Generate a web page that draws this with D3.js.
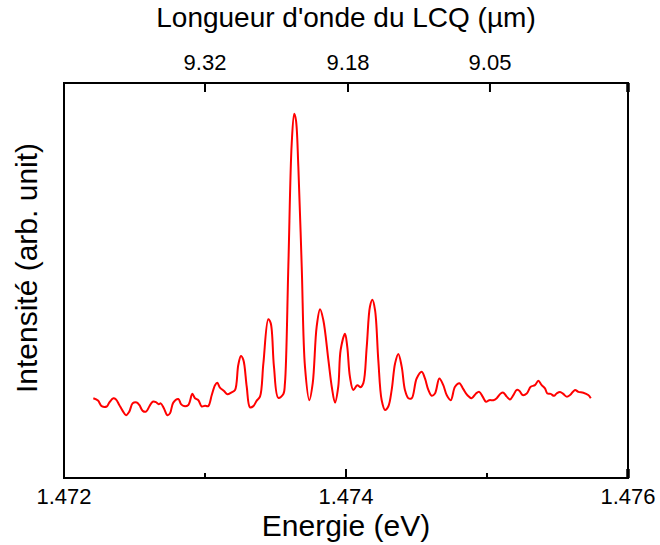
<!DOCTYPE html>
<html><head><meta charset="utf-8">
<script src="https://cdn.jsdelivr.net/npm/d3@7"></script>
<style>body{margin:0;background:#fff}svg{display:block}text{font-family:"Liberation Sans",Arial,sans-serif;fill:#000}</style>
</head><body><svg id="c" width="660" height="545"></svg>
<script>
const energies = [1.472208,1.472241,1.472267,1.472303,1.472321,1.472350,1.472369,1.472392,1.472416,1.472440,
1.472463,1.472487,1.472516,1.472534,1.472558,1.472582,1.472605,1.472629,1.472652,1.472672,
1.472686,1.472709,1.472733,1.472752,1.472775,1.472811,1.472830,1.472851,1.472882,1.472910,
1.472929,1.472953,1.472977,1.473000,1.473023,1.473048,1.473071,1.473087,1.473106,1.473135,
1.473158,1.473189,1.473213,1.473236,1.473255,1.473272,1.473296,1.473319,1.473343,1.473367,
1.473390,1.473414,1.473449,1.473466,1.473489,1.473520,1.473555,1.473567,1.473591,1.473615,
1.473633,1.473645,1.473662,1.473686,1.473709,1.473740,1.473764,1.473792,1.473816,1.473839,
1.473875,1.473899,1.473922,1.473945,1.473962,1.473993,1.474009,1.474028,1.474052,1.474080,
1.474104,1.474123,1.474147,1.474170,1.474187,1.474206,1.474229,1.474253,1.474277,1.474300,
1.474324,1.474348,1.474371,1.474395,1.474418,1.474442,1.474466,1.474501,1.474537,1.474560,
1.474584,1.474608,1.474631,1.474662,1.474690,1.474714,1.474743,1.474773,1.474804,1.474832,
1.474860,1.474891,1.474922,1.474945,1.474969,1.474993,1.475016,1.475045,1.475069,1.475097,
1.475116,1.475140,1.475163,1.475187,1.475211,1.475229,1.475253,1.475282,1.475310,1.475340,
1.475364,1.475388,1.475411,1.475428,1.475452,1.475475,1.475494,1.475518,1.475541,1.475565,
1.475589,1.475624,1.475648,1.475683,1.475718,1.475736];
const intensities = [20.2,19.6,18.2,18.1,19.1,20.2,19.9,18.5,17.0,15.9,
16.8,18.9,19.1,18.5,17.0,16.8,18.1,19.3,19.2,18.7,
18.9,17.6,15.9,16.4,19.1,20.0,18.7,18.2,18.5,21.3,
20.2,19.7,18.1,18.3,18.2,21.0,23.5,24.1,22.9,22.0,
21.2,21.7,22.3,28.6,30.9,29.9,23.1,17.9,18.2,19.6,
20.6,29.0,40.2,39.2,28.2,20.3,21.2,24.0,53.5,84.7,
92.2,90.6,78.8,53.5,28.2,19.7,24.0,38.3,42.7,40.0,
29.9,23.1,19.1,23.1,32.4,36.5,33.2,25.6,22.3,23.5,
23.0,24.0,33.2,43.4,45.1,42.5,29.9,19.7,17.2,18.1,
22.3,29.0,31.4,28.2,22.3,20.2,20.2,25.2,26.9,25.2,
22.3,20.8,21.4,25.2,23.5,21.0,19.7,23.1,24.0,22.5,
21.0,20.2,21.4,21.8,20.6,19.3,19.7,19.7,20.2,21.4,
21.6,20.6,19.9,21.0,22.3,22.1,21.0,21.4,23.1,23.5,
24.6,23.5,22.7,21.4,21.3,20.8,21.4,21.8,21.3,20.6,
21.0,22.3,21.8,21.6,21.0,20.2];
const xDomain = [1.472, 1.476];
const yDomain = [0, 100];
const majorTicks = [1.472, 1.474, 1.476];
const minorTicks = [1.473, 1.475];
const majorLabels = ["1.472", "1.474", "1.476"];
const topTickEnergies = [1.473, 1.474014, 1.475021];
const topTickLabels = ["9.32", "9.18", "9.05"];
const titleTop = "Longueur d'onde du LCQ (µm)";
const titleX = "Energie (eV)";
const titleY = "Intensité (arb. unit)";

const L = 64, R = 628, T = 83, B = 478;
const svg = d3.select("#c");
const x = d3.scaleLinear().domain(xDomain).range([L, R]);
const y = d3.scaleLinear().domain(yDomain).range([B, T]);

// frame
svg.append("rect").attr("x", L).attr("y", T).attr("width", R - L).attr("height", B - T)
  .attr("fill", "none").attr("stroke", "#000").attr("stroke-width", 2);

// bottom ticks (inward)
svg.selectAll(".bmaj").data(majorTicks).enter().append("line")
  .attr("x1", d => x(d)).attr("x2", d => x(d)).attr("y1", B).attr("y2", B - 9)
  .attr("stroke", "#000").attr("stroke-width", 2);
svg.selectAll(".bmin").data(minorTicks).enter().append("line")
  .attr("x1", d => x(d)).attr("x2", d => x(d)).attr("y1", B).attr("y2", B - 5)
  .attr("stroke", "#000").attr("stroke-width", 2);
svg.selectAll(".blab").data(majorTicks).enter().append("text")
  .attr("x", d => x(d)).attr("y", B + 26).attr("text-anchor", "middle")
  .attr("font-size", 22).text((d, i) => majorLabels[i]);

// top ticks (inward)
svg.selectAll(".tmaj").data(topTickEnergies).enter().append("line")
  .attr("x1", d => x(d)).attr("x2", d => x(d)).attr("y1", T).attr("y2", T + 9)
  .attr("stroke", "#000").attr("stroke-width", 2);
svg.append("line").attr("x1", R).attr("x2", R).attr("y1", T).attr("y2", T + 9)
  .attr("stroke", "#000").attr("stroke-width", 3.5);
svg.append("line").attr("x1", R).attr("x2", R).attr("y1", B).attr("y2", B - 9)
  .attr("stroke", "#000").attr("stroke-width", 3.5);
svg.selectAll(".tlab").data(topTickEnergies).enter().append("text")
  .attr("x", d => x(d)).attr("y", T - 13).attr("text-anchor", "middle")
  .attr("font-size", 22).text((d, i) => topTickLabels[i]);

// titles
svg.append("text").attr("x", 346).attr("y", 27).attr("text-anchor", "middle")
  .attr("font-size", 28).text(titleTop);
svg.append("text").attr("x", 346).attr("y", 536).attr("text-anchor", "middle")
  .attr("font-size", 30).text(titleX);
svg.append("text").attr("transform", "translate(37,268) rotate(-90)").attr("text-anchor", "middle")
  .attr("font-size", 30).text(titleY);

// data line
const pts = energies.map((e, i) => [e, intensities[i]]);
const line = d3.line().x(d => x(d[0])).y(d => y(d[1])).curve(d3.curveCatmullRom.alpha(0.5));
svg.append("path").datum(pts).attr("d", line).attr("fill", "none")
  .attr("stroke", "#ff0000").attr("stroke-width", 2);
</script></body></html>
